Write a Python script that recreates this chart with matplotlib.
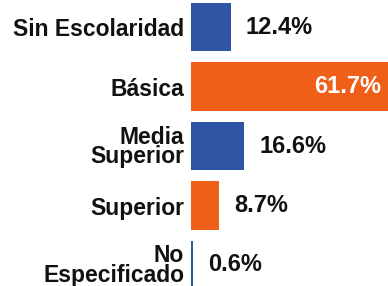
import matplotlib.pyplot as plt

categories = ["Sin Escolaridad", "Básica", "Media\nSuperior", "Superior", "No\nEspecificado"]
values = [12.4, 61.7, 16.6, 8.7, 0.6]
labels = ["12.4%", "61.7%", "16.6%", "8.7%", "0.6%"]

blue = '#2f55a4'
orange = '#ef5f17'
colors = [blue, orange, blue, orange, blue]

plt.rcParams['font.family'] = ['Liberation Sans', 'DejaVu Sans']

fig = plt.figure(figsize=(3.88, 2.86), dpi=100)
ax = fig.add_axes([191 / 388, 0, 1 - 191 / 388, 1])

pos = list(range(len(categories)))
ax.barh(pos, values, height=0.82, color=colors)
ax.set_xlim(0, 61.7)
ax.set_ylim(4.353, -0.454)

ax.set_yticks(pos)
ax.set_yticklabels(categories, fontsize=16.5, fontweight='bold', color='#111111',
                   multialignment='right', linespacing=0.8)
ax.tick_params(axis='y', length=0, pad=5)
ax.set_xticks([])
for s in ax.spines.values():
    s.set_visible(False)

for i, (v, lab) in enumerate(zip(values, labels)):
    if v > 40:
        ax.annotate(lab, (v, i), xytext=(-5, 0), textcoords='offset points',
                    ha='right', va='center', fontsize=17, fontweight='bold', color='white')
    else:
        ax.annotate(lab, (v, i), xytext=(11, 0), textcoords='offset points',
                    ha='left', va='center', fontsize=17, fontweight='bold', color='#111111')

fig.savefig("out.png", dpi=100)
